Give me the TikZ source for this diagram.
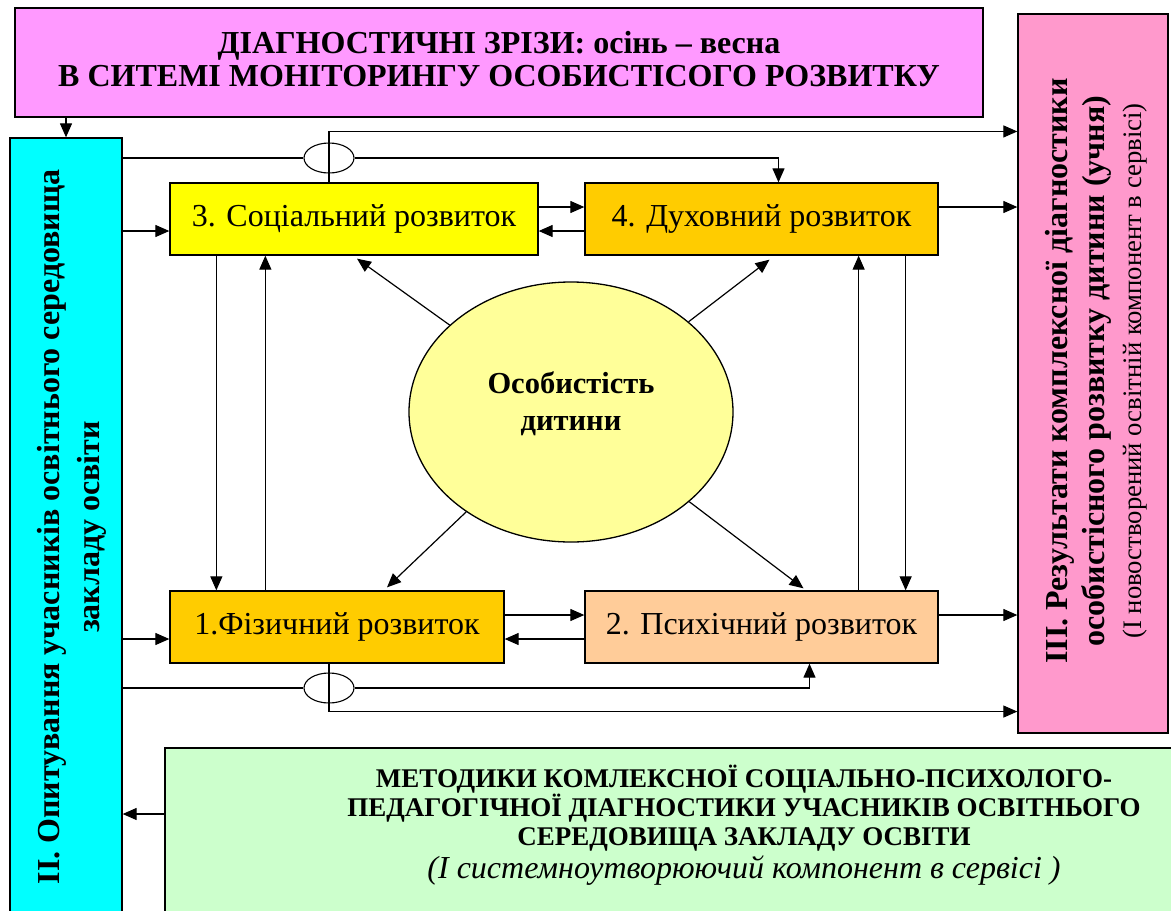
\documentclass[tikz,border=0pt]{standalone}
\usepackage{fontspec}
\setmainfont{Liberation Serif}
\usetikzlibrary{arrows.meta,shapes.geometric}
\definecolor{topcol}{HTML}{FF99FF}
\definecolor{surveycol}{HTML}{00FFFF}
\definecolor{resultcol}{HTML}{FF99CC}
\definecolor{methodcol}{HTML}{CCFFCC}
\definecolor{soccol}{HTML}{FFFF00}
\definecolor{orangecol}{HTML}{FFCC00}
\definecolor{psychcol}{HTML}{FFCC99}
\definecolor{perscol}{HTML}{FFFF99}

\begin{document}
\begin{tikzpicture}[x=1pt,y=-1pt,
  box/.style={draw,line width=1.3pt,inner sep=0pt},
  devbox/.style={box,minimum height=72pt,font=\fontsize{32}{36}\selectfont},
  jump/.style={ellipse,draw,fill=white,line width=1.1pt,inner sep=0pt,minimum width=50pt,minimum height=30pt},
  ln/.style={line width=1.2pt},
  arr/.style={ln,-{Triangle[length=14pt,width=12pt]}}]

\useasboundingbox (0,0) rectangle (1171,911);

\node[box,fill=topcol,minimum width=968pt,minimum height=109pt] (top) at (499,62.5) {};
\node[align=center,font=\bfseries\fontsize{32}{33}\selectfont] (toptxt) at (499,59)
  {ДІАГНОСТИЧНІ ЗРІЗИ: осінь – весна\\В СИТЕМІ МОНІТОРИНГУ ОСОБИСТІСОГО РОЗВИТКУ};

\node[box,fill=surveycol,minimum width=112pt,minimum height=782pt] (survey) at (66,529) {};
\node[rotate=90,align=center,font=\bfseries\fontsize{32}{40}\selectfont] (surveytxt) at (72,527)
  {II. Опитування учасників освітнього середовища\\закладу освіти};

\node[box,fill=resultcol,minimum width=150pt,minimum height=719pt] (results) at (1093,373.5) {};
\node[rotate=90,align=center,font=\bfseries\fontsize{32}{37}\selectfont] (resultstxt) at (1096,371)
  {III. Результати комплексної діагностики\\особистісного розвитку дитини (учня)\\
  {\mdseries\fontsize{26.7}{32}\selectfont(І новостворений освітній компонент в сервісі)}};

\node[box,fill=methodcol,minimum width=1015pt,minimum height=180pt] (methods) at (672.5,838) {};
\node[align=center,font=\bfseries\fontsize{27}{29}\selectfont] (methodstxt) at (744,825)
  {МЕТОДИКИ КОМЛЕКСНОЇ СОЦІАЛЬНО-ПСИХОЛОГО-\\ПЕДАГОГІЧНОЇ ДІАГНОСТИКИ УЧАСНИКІВ ОСВІТНЬОГО\\СЕРЕДОВИЩА ЗАКЛАДУ ОСВІТИ\\[4pt]
  {\mdseries\itshape\fontsize{32}{34}\selectfont(І системноутворюючий компонент в сервісі )}};

\node[devbox,fill=soccol,minimum width=368pt] (soc) at (354,219) {3. Соціальний розвиток};
\node[devbox,fill=orangecol,minimum width=353pt] (spir) at (761.5,219) {4. Духовний розвиток};
\node[devbox,fill=orangecol,minimum width=334pt] (phys) at (337,627) {1.Фізичний розвиток};
\node[devbox,fill=psychcol,minimum width=353pt] (psych) at (761.5,627) {2. Психічний розвиток};

\node[ellipse,draw,line width=1.3pt,fill=perscol,minimum width=324pt,minimum height=260pt] (pers) at (571,412) {};
\node[align=center,font=\bfseries\fontsize{30.5}{37}\selectfont] (perstxt) at (571,404) {Особистість\\дитини};

\node[jump] (jmpA) at (329,158) {};
\node[jump] (jmpB) at (329,688) {};
\coordinate (t1) at ([yshift=11pt]jmpA.north);
\coordinate (t2) at ([yshift=-8pt]jmpB.south);
\coordinate (s3in) at ([yshift=-12pt]soc.west);
\coordinate (s1in) at ([yshift=-12pt]phys.west);
\coordinate (s4out) at ([yshift=12pt]spir.east);
\coordinate (s2out) at ([yshift=12pt]psych.east);
\coordinate (m0) at ([yshift=24pt]methods.west);

\draw[arr] (top.south -| survey) -- (survey.north) ;
\draw[arr] (survey.east |- s3in) -- (s3in) ;
\draw[arr] (survey.east |- s1in) -- (s1in) ;
\draw[arr] (m0) -- (survey.east |- m0) ;

\draw[arr] ([yshift=12pt]soc.east) -- ([yshift=12pt]spir.west) ;
\draw[arr] ([yshift=-12pt]spir.west) -- ([yshift=-12pt]soc.east) ;
\draw[arr] ([yshift=12pt]phys.east) -- ([yshift=12pt]psych.west) ;
\draw[arr] ([yshift=-12pt]psych.west) -- ([yshift=-12pt]phys.east) ;

\draw[arr] ([xshift=47pt]soc.south west) -- ([xshift=47pt]phys.north west) ;
\draw[arr] ([xshift=96pt]phys.north west) -- ([xshift=96pt]soc.south west) ;
\draw[arr] ([xshift=-80pt]psych.north east) -- ([xshift=-80pt]spir.south east) ;
\draw[arr] ([xshift=-33pt]spir.south east) -- ([xshift=-33pt]psych.north east) ;

\draw[arr] (pers) -- ([xshift=3pt,yshift=-3pt]soc.south) ;
\draw[arr] (pers) -- ([xshift=8pt,yshift=-4pt]spir.south) ;
\draw[arr] (pers) -- ([xshift=50pt,yshift=3pt]phys.north) ;
\draw[arr] (pers) -- ([xshift=42pt,yshift=2pt]psych.north) ;

\draw[ln] (survey.east |- jmpA) -- (jmpA.west) ;
\draw[arr] (jmpA.east) -| ([xshift=17pt]spir.north) ;
\draw[arr] ([xshift=-25pt]soc.north) |- (results.west |- t1) ;
\draw[ln] (survey.east |- jmpB) -- (jmpB.west) ;
\draw[arr] (jmpB.east) -| ([xshift=48pt]psych.south) ;
\draw[arr] ([xshift=-8pt]phys.south) |- (results.west |- t2) ;

\draw[arr] (s4out) -- (results.west |- s4out) ;
\draw[arr] (s2out) -- (results.west |- s2out) ;

\end{tikzpicture}
\end{document}
